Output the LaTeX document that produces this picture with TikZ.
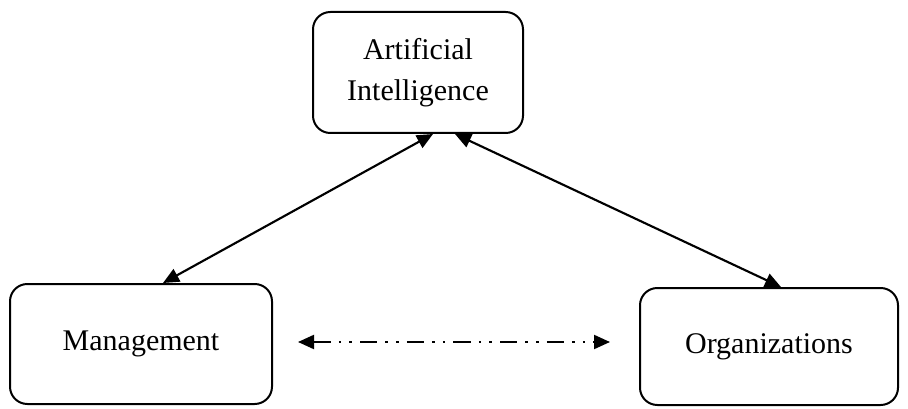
\documentclass[tikz,border=0pt]{standalone}
\usepackage{fontspec}
\setmainfont{Liberation Serif}
\usepackage{tikz}
\usetikzlibrary{arrows.meta,positioning,calc}

\begin{document}
\begin{tikzpicture}[x=0.75pt,y=0.75pt,
    box/.style={rectangle, draw=black, line width=1.5pt, rounded corners=13pt, align=center, font=\fontsize{22.5}{30.75}\selectfont},
    arrow/.style={{Triangle[length=12pt,width=10.5pt]}-{Triangle[length=12pt,width=10.5pt]}, line width=1.6pt}
]
    \useasboundingbox (0,0) rectangle (908,408);
    \node[box, minimum width=157.5pt, minimum height=90.75pt] (ai) at (418,335.5) {Artificial\\Intelligence};
    \node[box, minimum width=196.5pt, minimum height=90pt] (mgmt) at (141,64) {Management};
    \node[box, minimum width=193.5pt, minimum height=87.75pt] (org) at (769,61.5) {Organizations};

    \draw[arrow] ([xshift=11.25pt]ai.south) -- ([xshift=16.5pt]mgmt.north);
    \draw[arrow] ([xshift=27.75pt]ai.south) -- ([xshift=9pt]org.north);
    \draw[arrow, dash pattern=on 13pt off 6pt on 2pt off 6pt on 2pt off 6pt]
        ([shift={(25,2)}]mgmt.east) -- ([shift={(-29,4.5)}]org.west);
\end{tikzpicture}
\end{document}
